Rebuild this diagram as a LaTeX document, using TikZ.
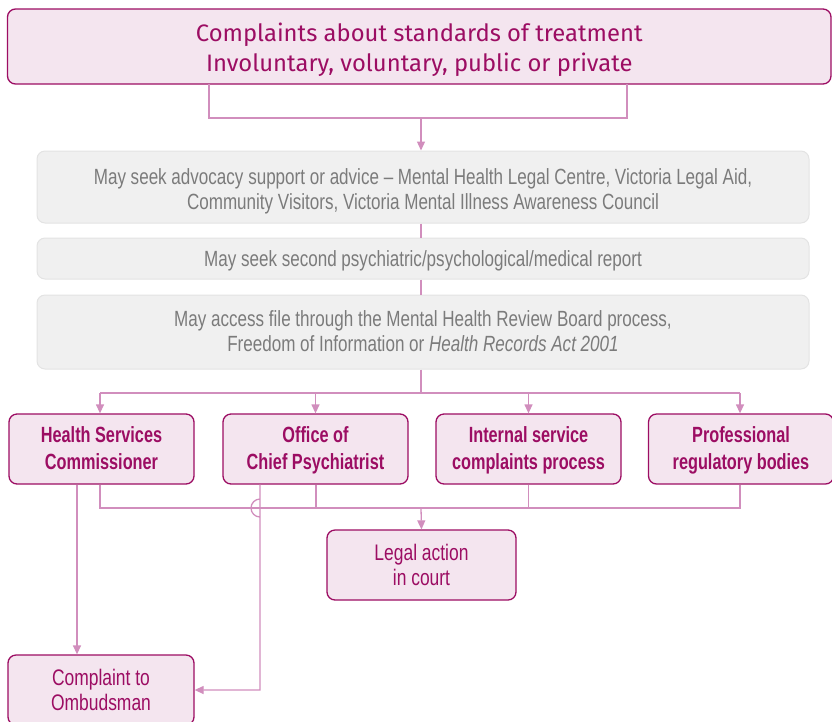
\documentclass[tikz,border=0pt]{standalone}
\usepackage{fontspec}
\setmainfont{Liberation Sans}
\newfontfamily\condfont[FakeStretch=0.775]{Liberation Sans}
\newfontfamily\condbold[FakeStretch=0.74]{Liberation Sans}
\newfontfamily\topfont{Fira Sans}
\usetikzlibrary{arrows.meta}
\definecolor{mag}{HTML}{9C0D63}
\definecolor{magfill}{HTML}{F4E5EF}
\definecolor{conncol}{HTML}{D18EBD}
\definecolor{gtext}{HTML}{7B7B7B}
\definecolor{gfill}{HTML}{F0F0F0}
\definecolor{gline}{HTML}{E3E3E3}
% #1 space above first baseline, #2 first line, #3 second line, #4 space below last baseline
\newcommand\twoln[4]{\rule{0pt}{#1pt}#2\\#3\rule[-#4pt]{0pt}{#4pt}}
\newcommand\oneln[3]{\rule{0pt}{#1pt}#2\rule[-#3pt]{0pt}{#3pt}}
\begin{document}
\begin{tikzpicture}[x=1pt,y=-1pt,
  pbox/.style={draw=mag, fill=magfill, line width=1.3pt, rounded corners=8pt, text=mag, align=center, inner sep=0pt},
  rowbox/.style={pbox, minimum width=185pt, font=\condbold\bfseries\fontsize{22}{26.5}\selectfont},
  endbox/.style={pbox, font=\condfont\fontsize{22.5}{25}\selectfont},
  gbox/.style={draw=gline, fill=gfill, line width=1pt, rounded corners=8pt, text=gtext, align=center, inner sep=0pt, minimum width=772pt, font=\condfont\fontsize{22}{25}\selectfont},
  conn/.style={draw=conncol, line width=1.3pt},
  arr/.style={conn, -{Triangle[width=8pt,length=9pt]}}
]
\clip (0,0) rectangle (832,721);
\useasboundingbox (0,0) rectangle (832,721);

\node[pbox, minimum width=823.5pt, font=\topfont\fontsize{23.8}{30}\selectfont] (top) at (419.25,46.5)
  {\twoln{32.5}{Complaints about standards of treatment}{Involuntary, voluntary, public or private}{12.5}};

\node[gbox] (g1) at (423,187)
  {\twoln{33.5}{May seek advocacy support or advice – Mental Health Legal Centre, Victoria Legal Aid,}{Community Visitors, Victoria Mental Illness Awareness Council}{13.5}};
\node[gbox] (g2) at (423,258.5)
  {\oneln{28.7}{May seek second psychiatric/psychological/medical report}{12.3}};
\node[gbox] (g3) at (423,332)
  {\twoln{31.7}{May access file through the Mental Health Review Board process,}{Freedom of Information or \textit{Health Records Act 2001}}{17.3}};

\node[rowbox] (hsc) at (101.5,449) {\twoln{28.7}{Health Services}{Commissioner}{14.8}};
\node[rowbox] (ocp) at (315.5,449) {\twoln{28.7}{Office of}{Chief Psychiatrist}{14.8}};
\node[rowbox] (isc) at (528.5,449) {\twoln{28.7}{Internal service}{complaints process}{14.8}};
\node[rowbox] (prb) at (741,449) {\twoln{28.7}{Professional}{regulatory bodies}{14.8}};

\node[endbox, minimum width=189pt] (legal) at (421.5,565) {\twoln{30}{Legal action}{in court}{15}};
\node[endbox, minimum width=186pt] (omb) at (101,690) {\twoln{30}{Complaint to}{Ombudsman}{15}};

% top connector
\coordinate (tl) at (209,84);
\coordinate (tr) at (627,84);
\coordinate (j1) at (421,118);
\draw[conn] (tl) |- (tr |- j1) -- (tr);
\draw[arr] (j1) -- (j1 |- g1.north);

% between gray boxes
\draw[conn] ([xshift=-2pt]g1.south) -- ([xshift=-2pt]g2.north);
\draw[conn] ([xshift=-2pt]g2.south) -- ([xshift=-2pt]g3.north);

% distribution bus
\coordinate (bus) at (421,393);
\draw[conn] ([xshift=-2pt]g3.south) -- (bus);
\draw[conn] ([xshift=-1.5pt]hsc.north |- bus) -- ([xshift=-1pt]prb.north |- bus);
\draw[arr] ([xshift=-1.5pt]hsc.north |- bus) -- ([xshift=-1.5pt]hsc.north);
\draw[arr] (ocp.north |- bus) -- (ocp.north);
\draw[arr] (isc.north |- bus) -- (isc.north);
\draw[arr] ([xshift=-1pt]prb.north |- bus) -- ([xshift=-1pt]prb.north);

% collecting bus to legal action
\coordinate (bus2) at (421,508);
\draw[conn] ([xshift=-1.5pt]hsc.south) |- ([xshift=-1pt]prb.south |- bus2) -- ([xshift=-1pt]prb.south);
\draw[conn] ([xshift=0.5pt]ocp.south) -- ([xshift=0.5pt]ocp.south |- bus2);
\draw[conn] (isc.south) -- (isc.south |- bus2);
\draw[arr] (bus2) -- (legal.north);

% to ombudsman
\draw[arr] ([xshift=-24.5pt]hsc.south) -- ([xshift=-24.5pt]hsc.south |- omb.north);
\coordinate (hop) at (260,508);
\draw[arr] (ocp.south -| hop) -- ([yshift=-9pt]hop) arc[start angle=270, end angle=90, radius=9pt] -- (hop |- omb.east) -- (omb.east);
\end{tikzpicture}
\end{document}
